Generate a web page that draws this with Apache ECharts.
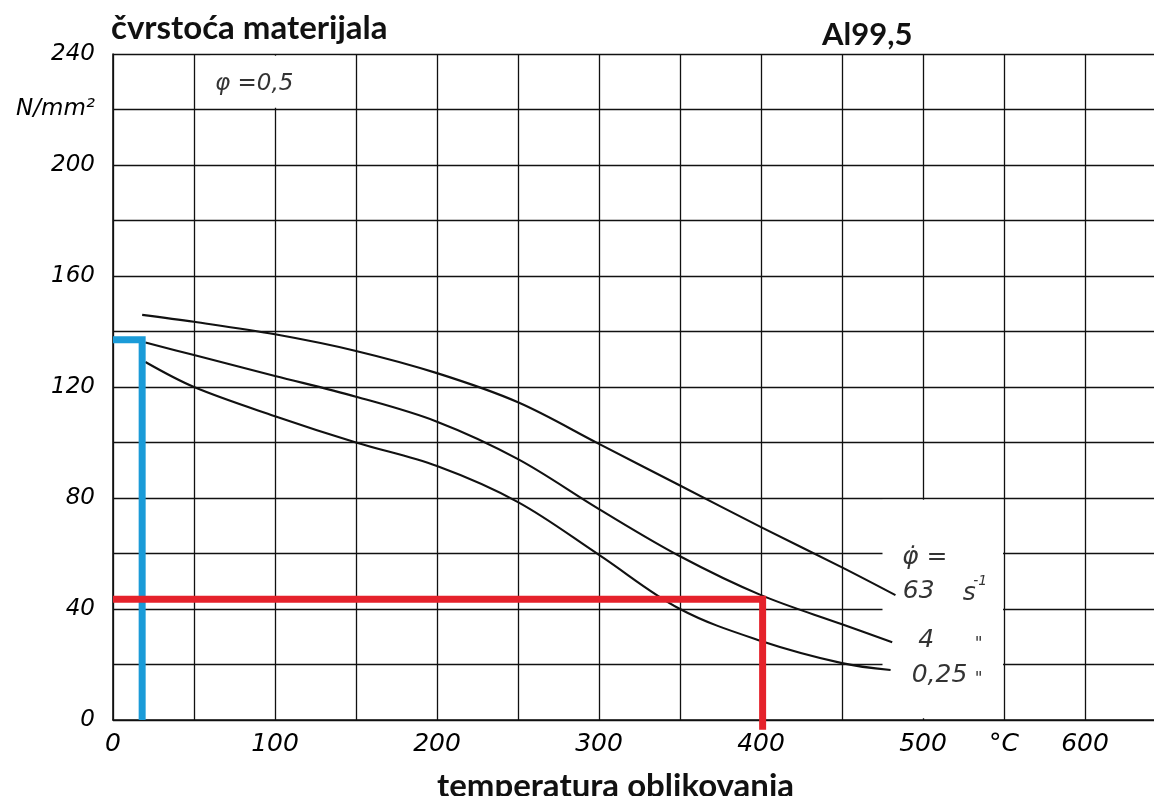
<!DOCTYPE html>
<html><head><meta charset="utf-8">
<script src="https://cdn.jsdelivr.net/npm/echarts@6/dist/echarts.min.js"></script>
<style>html,body{margin:0;padding:0;background:#fff}#c{width:1154px;height:796px}</style>
</head><body><div id="c"></div>
<script>
// ---- data ----
const tempLabels = {0:'0',100:'100',200:'200',300:'300',400:'400',500:'500',550:'°C',600:'600'};
const strengthLabels = {0:'0',40:'40',80:'80',120:'120',160:'160',200:'200',220:'N/mm²',240:'240'};
const curve63  = [[18,146],[50,143.5],[100,139],[150,133],[200,125],[250,114.5],[300,99.5],[350,84.5],[400,69.5],[450,55],[483,45]];
const curve4   = [[20,136],[50,131.5],[100,124],[150,116.5],[200,107.5],[250,94],[300,76],[350,59],[400,45],[450,34.5],[481,28]];
const curve025 = [[20,129],[50,120],[100,109.5],[150,100],[200,91.5],[250,78.5],[300,59.5],[350,40],[400,28.5],[450,20.5],[480,18]];
const blueGuide = [[0,137],[18,137],[18,0]];
const redGuide  = [[0,43.5],[401,43.5],[401,-3.5]];
// annotation texts with anchor in data coordinates
const notes = [
  {t:'φ =0,5', at:[63,229], size:23},
  {t:'φ̇ =',   at:[487,58.5], size:25},
  {t:'63',     at:[487.5,46.2], size:25},
  {t:'s',      at:[524.5,45.5], size:25},
  {t:'-1',     at:[531,50], size:14},
  {t:'4',      at:[497,28.5], size:25},
  {t:'"',      at:[532,27], size:17},
  {t:'0,25',   at:[493,16], size:25},
  {t:'"',      at:[532,14.5], size:17}
];
// areas where the printed grid is interrupted (label boxes)
const gridGaps = [ [[475,0.6],[549.4,79.4]], [[60,220.6],[140,239.4]] ];

const ink = '#111';
const chart = echarts.init(document.getElementById('c'), null, {renderer:'canvas'});
const curveStyle = (d) => ({type:'line', data:d, smooth:0.35, showSymbol:false, symbol:'none', z:3,
  lineStyle:{color:ink, width:2.1}, silent:true});
chart.setOption({
  animation:false,
  backgroundColor:'#fff',
  title:[
    {text:'čvrstoća materijala', left:106, top:7, textStyle:{fontFamily:'Lato', fontWeight:'bold', fontSize:33, color:'#111'}},
    {text:'Al99,5', left:817, top:14, textStyle:{fontFamily:'Lato', fontWeight:'bold', fontSize:31, color:'#111'}},
    {text:'temperatura oblikovanja', left:432, top:765, textStyle:{fontFamily:'Lato', fontWeight:'bold', fontSize:33, color:'#111'}}
  ],
  grid:{left:113, top:54, width:1053, bottom:76, outerBoundsMode:'none', containLabel:false},
  xAxis:{type:'value', min:0, max:650, interval:50,
    axisLine:{show:true, lineStyle:{color:ink, width:1.6}},
    axisTick:{show:false},
    splitLine:{show:true, lineStyle:{color:ink, width:1.3}},
    axisLabel:{margin:12, fontFamily:'DejaVu Sans', fontStyle:'italic', fontSize:25, color:'#000',
      formatter:v => tempLabels[v] || '', showMaxLabel:true, showMinLabel:true}},
  yAxis:{type:'value', min:0, max:240, interval:20,
    axisLine:{show:true, lineStyle:{color:ink, width:1.6}},
    axisTick:{show:false},
    splitLine:{show:true, lineStyle:{color:ink, width:1.3}},
    axisLabel:{margin:18, fontFamily:'DejaVu Sans', fontStyle:'italic', fontSize:23, color:'#000',
      formatter:v => strengthLabels[v] || ''}},
  series:[
    {type:'line', data:[], z:1, silent:true,
     markArea:{silent:true, itemStyle:{color:'#fff', opacity:1}, label:{show:false},
       data: gridGaps.map(g => [{coord:g[0]},{coord:g[1]}])}},
    curveStyle(curve63),
    curveStyle(curve4),
    curveStyle(curve025),
    {type:'line', data:blueGuide, showSymbol:false, symbol:'none', z:5, clip:false, silent:true,
     lineStyle:{color:'#1a9bd8', width:7, cap:'butt', join:'miter'}},
    {type:'line', data:redGuide, showSymbol:false, symbol:'none', z:5, clip:false, silent:true,
     lineStyle:{color:'#e5222b', width:7, cap:'butt', join:'miter'}},
    {type:'scatter', z:6, symbolSize:0, silent:true,
     data: notes.map(n => ({value:n.at, label:{show:true, position:'inside', align:'left', verticalAlign:'middle',
       formatter:n.t, fontFamily:'DejaVu Sans', fontStyle:'italic', fontSize:n.size, color:'#000'}}))}
  ]
});
</script></body></html>
